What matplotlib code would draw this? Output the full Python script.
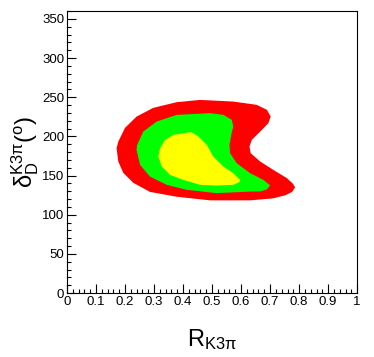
import matplotlib
matplotlib.use("Agg")
import matplotlib.pyplot as plt
from matplotlib.ticker import MultipleLocator

plt.rcParams['font.family'] = ['Liberation Sans', 'DejaVu Sans']
plt.rcParams['mathtext.fontset'] = 'custom'
plt.rcParams['mathtext.rm'] = 'Liberation Sans'
plt.rcParams['mathtext.it'] = 'Liberation Sans:italic'

# contour outlines (R, delta in degrees)
red_r = [0.171, 0.177, 0.200, 0.240, 0.297, 0.378, 0.459, 0.573, 0.654, 0.689, 0.702,
         0.694, 0.666, 0.637, 0.629, 0.633, 0.666, 0.711, 0.758, 0.779, 0.786, 0.776,
         0.752, 0.710, 0.631, 0.493, 0.378, 0.286, 0.229, 0.194, 0.177]
red_d = [185.0, 193.4, 210.9, 225.3, 236.4, 243.7, 246.6, 244.5, 240.3, 233.9, 225.3,
         216.9, 206.2, 195.6, 187.0, 178.6, 167.9, 157.3, 146.7, 139.5, 135.0, 129.2,
         124.8, 120.9, 118.4, 118.4, 123.0, 129.2, 140.7, 153.5, 167.9]

green_r = [0.240, 0.242, 0.263, 0.309, 0.378, 0.493, 0.539, 0.568, 0.573, 0.566, 0.560,
           0.562, 0.585, 0.631, 0.677, 0.700, 0.689, 0.666, 0.631, 0.516, 0.413, 0.344,
           0.286, 0.252]
green_d = [182.8, 189.2, 206.2, 218.9, 227.5, 229.7, 227.5, 221.1, 212.6, 202.0, 189.2,
           178.6, 165.8, 153.1, 144.5, 137.5, 132.4, 129.8, 129.6, 127.6, 131.8, 138.2,
           148.8, 163.7]

yellow_r = [0.315, 0.321, 0.338, 0.367, 0.424, 0.436, 0.453, 0.482, 0.504, 0.539, 0.573,
            0.597, 0.594, 0.573, 0.516, 0.459, 0.401, 0.355, 0.327]
yellow_d = [174.3, 185.0, 195.6, 202.0, 205.4, 204.1, 199.8, 189.2, 174.3, 161.5, 153.1,
            144.5, 141.6, 138.2, 137.3, 138.2, 144.5, 150.9, 161.5]

fig = plt.figure(figsize=(3.74, 3.57), dpi=100)
ax = fig.add_axes([0.179, 0.179, 0.776, 0.790])

ax.fill(red_r, red_d, color='#ff0000', lw=0)
ax.fill(green_r, green_d, color='#00ff00', lw=0)
ax.fill(yellow_r, yellow_d, color='#ffff00', lw=0)

ax.set_xlim(0, 1)
ax.set_ylim(0, 360)
ax.xaxis.set_major_locator(MultipleLocator(0.1))
ax.xaxis.set_minor_locator(MultipleLocator(0.02))
ax.yaxis.set_major_locator(MultipleLocator(50))
ax.yaxis.set_minor_locator(MultipleLocator(10))
ax.set_xticks([i / 10 for i in range(11)])
ax.set_xticklabels(['0', '0.1', '0.2', '0.3', '0.4', '0.5', '0.6', '0.7', '0.8', '0.9', '1'])
ax.tick_params(which='both', direction='in', top=False, right=False, labelsize=9.5, width=0.8)
ax.tick_params(which='major', length=6.5, pad=2)
ax.tick_params(which='minor', length=3.2)
for s in ax.spines.values():
    s.set_linewidth(0.8)

ax.set_xlabel(r'$\mathrm{R_{K3π}}$', fontsize=17, labelpad=14)
ax.set_ylabel(r'$\mathrm{δ_D^{K3π}(^o)}$', fontsize=17, labelpad=1)

plt.savefig('out.png', dpi=100)
